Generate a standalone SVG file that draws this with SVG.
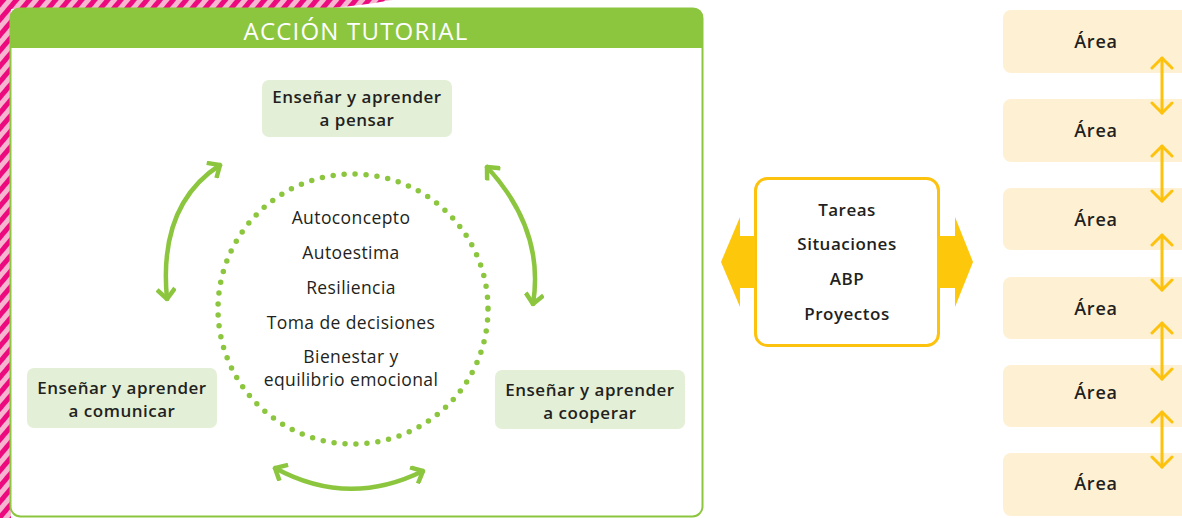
<svg xmlns="http://www.w3.org/2000/svg" width="1182" height="518" viewBox="0 0 1182 518">
<style>
.t{font-family:"Open Sans","Noto Sans",sans-serif;fill:#231f20;text-anchor:middle}
.b{font-weight:600;font-size:17px;letter-spacing:0.5px}
.c{font-size:17.5px;letter-spacing:0.4px}
.a{font-weight:600;font-size:18px;letter-spacing:0.8px}
.g{fill:none;stroke:#8cc63f;stroke-width:4.5;stroke-linecap:round}
.y{fill:none;stroke:#fdc20e;stroke-width:3;stroke-linecap:round}
.gbox{fill:#e3efd7}
.abox{fill:#fef1d3}
</style>
<defs>
<pattern id="stripes" width="10" height="10" patternUnits="userSpaceOnUse" patternTransform="rotate(40)">
<rect width="10" height="10" fill="#f7b6cf"/>
<rect width="5" height="10" fill="#ec0a7e"/>
</pattern>
<marker id="gh" viewBox="-12 -10 14 20" markerWidth="14" markerHeight="20" refX="0" refY="0" orient="auto-start-reverse" markerUnits="userSpaceOnUse">
<path d="M-10,-9 L0,0 L-10,9" fill="none" stroke="#8cc63f" stroke-width="4.5" stroke-linecap="butt" stroke-linejoin="miter"/>
</marker>
<marker id="yh" viewBox="-12 -12 14 24" markerWidth="14" markerHeight="24" refX="0" refY="0" orient="auto-start-reverse" markerUnits="userSpaceOnUse">
<path d="M-10,-10 L0,0 L-10,10" fill="none" stroke="#fdc20e" stroke-width="3" stroke-linecap="round" stroke-linejoin="round"/>
</marker>
</defs>
<rect width="1182" height="518" fill="#fff"/>
<path d="M0,0 H392 Q360,6 320,9 H11 V518 H0 Z" fill="url(#stripes)"/>
<g id="accion-tutorial">
<rect x="10.5" y="8.5" width="692" height="508" rx="10" fill="#fff" stroke="#8cc63f" stroke-width="2"/>
<path d="M10,48 V18 Q10,8 20,8 H693 Q703,8 703,18 V48 Z" fill="#8cc63f"/>
<text x="356" y="40" font-family="Open Sans, Noto Sans, sans-serif" font-size="24" letter-spacing="1.2" fill="#fff" text-anchor="middle">ACCIÓN TUTORIAL</text>
</g>
<g id="centro">
<circle cx="353" cy="309" r="135" fill="none" stroke="#8cc63f" stroke-width="5.5" stroke-linecap="round" stroke-dasharray="0 11"/>
<text class="t c" x="351" y="224">Autoconcepto</text>
<text class="t c" x="351" y="259">Autoestima</text>
<text class="t c" x="351" y="294">Resiliencia</text>
<text class="t c" x="351" y="329">Toma de decisiones</text>
<text class="t c" x="351" y="363">Bienestar y</text>
<text class="t c" x="351" y="386">equilibrio emocional</text>
</g>
<g id="pensar">
<rect class="gbox" x="262" y="80" width="190" height="57" rx="7"/>
<text class="t b" x="357" y="103">Enseñar y aprender</text>
<text class="t b" x="357" y="126">a pensar</text>
</g>
<g id="comunicar">
<rect class="gbox" x="27" y="368" width="190" height="60" rx="7"/>
<text class="t b" x="122" y="394">Enseñar y aprender</text>
<text class="t b" x="122" y="417">a comunicar</text>
</g>
<g id="cooperar">
<rect class="gbox" x="495" y="370" width="190" height="59" rx="7"/>
<text class="t b" x="590" y="396">Enseñar y aprender</text>
<text class="t b" x="590" y="419">a cooperar</text>
</g>
<g id="proyectos">
<rect x="755.5" y="178.5" width="183" height="167" rx="12" fill="#fff" stroke="#fdc20e" stroke-width="3"/>
<text class="t b" x="847" y="216">Tareas</text>
<text class="t b" x="847" y="250">Situaciones</text>
<text class="t b" x="847" y="285">ABP</text>
<text class="t b" x="847" y="320">Proyectos</text>
</g>
<g id="areas">
<rect class="abox" x="1003" y="10" width="190" height="63" rx="8"/>
<text class="t a" x="1096" y="48">Área</text>
<rect class="abox" x="1003" y="99" width="190" height="63" rx="8"/>
<text class="t a" x="1096" y="137">Área</text>
<rect class="abox" x="1003" y="188" width="190" height="62" rx="8"/>
<text class="t a" x="1096" y="226">Área</text>
<rect class="abox" x="1003" y="277" width="190" height="62" rx="8"/>
<text class="t a" x="1096" y="315">Área</text>
<rect class="abox" x="1003" y="365" width="190" height="62" rx="8"/>
<text class="t a" x="1096" y="399">Área</text>
<rect class="abox" x="1003" y="453" width="190" height="63" rx="8"/>
<text class="t a" x="1096" y="490">Área</text>
</g>
<g id="connectors">
<path class="g" d="M167,299 Q158,205 220,165" marker-start="url(#gh)" marker-end="url(#gh)"/>
<path class="g" d="M487,167 Q545,230 533,304" marker-start="url(#gh)" marker-end="url(#gh)"/>
<path class="g" d="M275,468 Q348,508 423,471" marker-start="url(#gh)" marker-end="url(#gh)"/>
<path d="M755,236 H740 V217 L721,262 L740,307 V288 H755 Z" fill="#fdc70b"/>
<path d="M937,236 H955 V217 L973,262 L955,307 V288 H937 Z" fill="#fdc70b"/>
<path class="y" d="M1162,58 V113" marker-start="url(#yh)" marker-end="url(#yh)"/>
<path class="y" d="M1162,146 V201" marker-start="url(#yh)" marker-end="url(#yh)"/>
<path class="y" d="M1162,235 V290" marker-start="url(#yh)" marker-end="url(#yh)"/>
<path class="y" d="M1162,323 V379" marker-start="url(#yh)" marker-end="url(#yh)"/>
<path class="y" d="M1162,412 V467" marker-start="url(#yh)" marker-end="url(#yh)"/>
</g>
</svg>
